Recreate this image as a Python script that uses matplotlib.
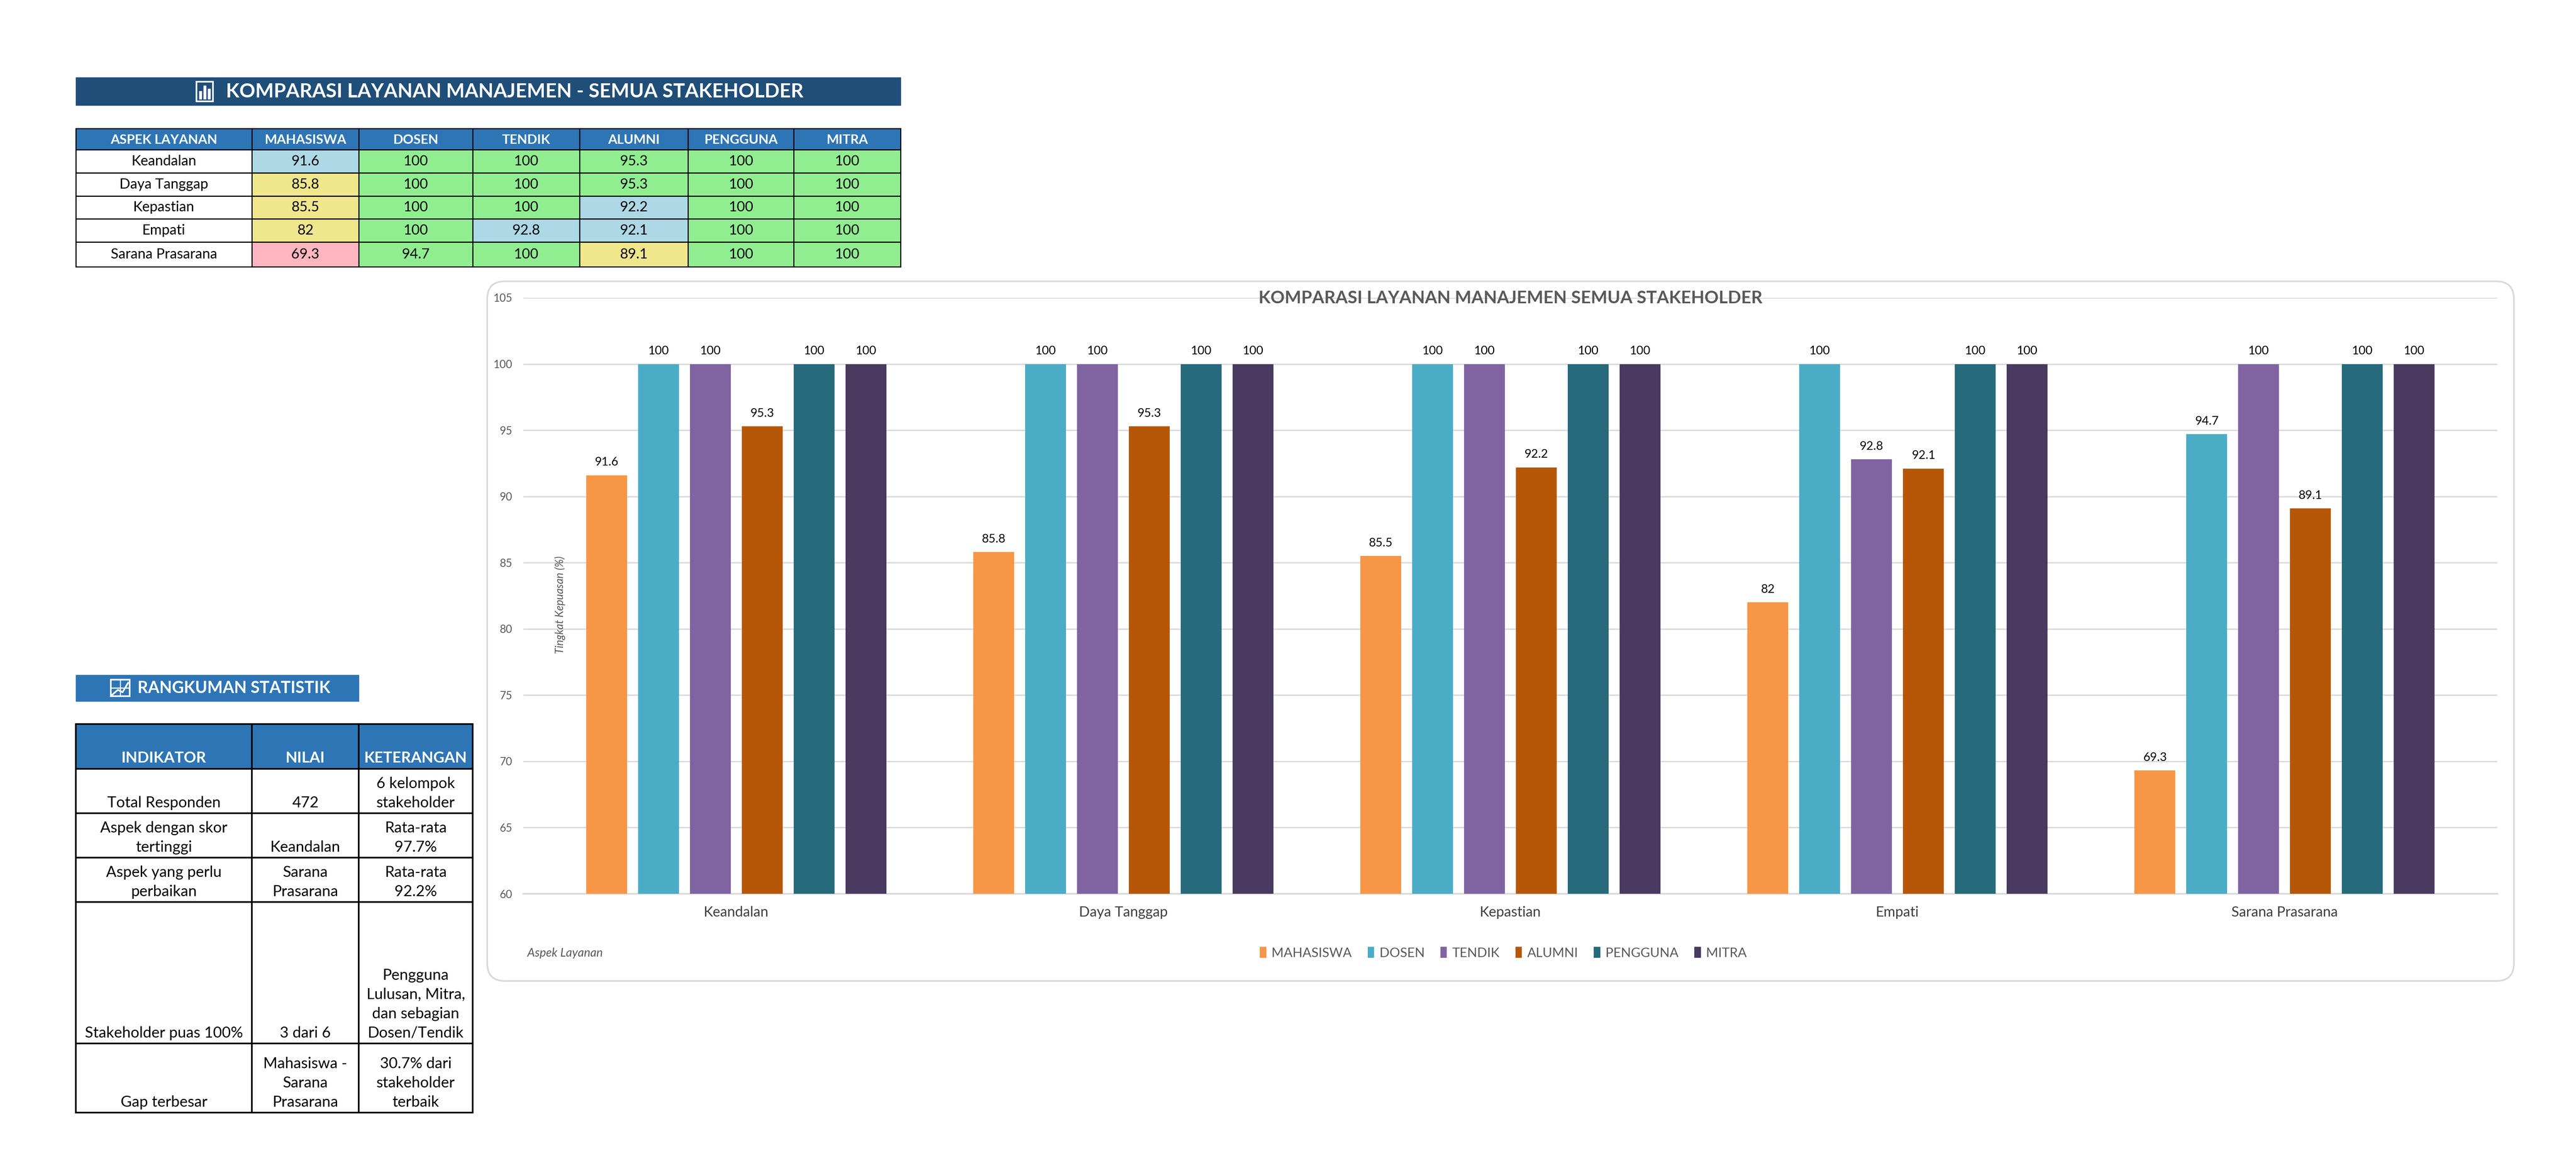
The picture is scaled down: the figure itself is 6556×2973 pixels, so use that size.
import numpy as np
import matplotlib.pyplot as plt
from matplotlib.patches import Rectangle, FancyBboxPatch

# === Data ===
aspects = ['Keandalan', 'Daya Tanggap', 'Kepastian', 'Empati', 'Sarana Prasarana']
stakeholders = ['MAHASISWA', 'DOSEN', 'TENDIK', 'ALUMNI', 'PENGGUNA', 'MITRA']
mahasiswa = [91.6, 85.8, 85.5, 82, 69.3]
dosen = [100, 100, 100, 100, 94.7]
tendik = [100, 100, 100, 92.8, 100]
alumni = [95.3, 95.3, 92.2, 92.1, 89.1]
pengguna = [100, 100, 100, 100, 100]
mitra = [100, 100, 100, 100, 100]
series = [mahasiswa, dosen, tendik, alumni, pengguna, mitra]

stat_header = ['INDIKATOR', 'NILAI', 'KETERANGAN']
stat_rows = [
    ['Total Responden', '472', '6 kelompok\nstakeholder'],
    ['Aspek dengan skor\ntertinggi', 'Keandalan', 'Rata-rata\n97.7%'],
    ['Aspek yang perlu\nperbaikan', 'Sarana\nPrasarana', 'Rata-rata\n92.2%'],
    ['Stakeholder puas 100%', '3 dari 6', 'Pengguna\nLulusan, Mitra,\ndan sebagian\nDosen/Tendik'],
    ['Gap terbesar', 'Mahasiswa -\nSarana\nPrasarana', '30.7% dari\nstakeholder\nterbaik'],
]

# === Styles ===
bar_colors = ['#F79646', '#4BACC6', '#8064A2', '#B65708', '#276A7C', '#4B3A60']
HEAD_BLUE = '#2E75B6'
DARK_BLUE = '#1F4E79'
FONT = 'Lato'


def cell_color(v):
    if v >= 93:
        return '#90EE90'
    if v >= 90:
        return '#ADD8E6'
    if v >= 75:
        return '#F0E68C'
    return '#FFB6C1'


W, H = 6556, 2973
fig = plt.figure(figsize=(W / 100, H / 100), dpi=100)
bg = fig.add_axes([0, 0, 1, 1])
bg.set_xlim(0, W)
bg.set_ylim(H, 0)
bg.axis('off')

# === Title bar ===
bg.add_patch(Rectangle((193, 197), 2099, 71, color=DARK_BLUE))
bg.add_patch(Rectangle((500, 208), 42, 50, fill=False, ec='white', lw=3))
for i, hh in enumerate([20, 34, 26]):
    bg.add_patch(Rectangle((507 + i * 11, 252 - hh), 6, hh, color='white'))
bg.text(1310, 234, 'KOMPARASI LAYANAN MANAJEMEN - SEMUA STAKEHOLDER', color='white',
        fontsize=36, fontweight='bold', ha='center', va='center', family=FONT)

# === Main table ===
col_x = [193, 641, 913, 1203, 1475, 1751, 2020, 2292]
row_y = [327, 381, 440, 499, 557, 616, 679]
header = ['ASPEK LAYANAN'] + stakeholders
for c in range(7):
    x0, x1 = col_x[c], col_x[c + 1]
    bg.add_patch(Rectangle((x0, row_y[0]), x1 - x0, row_y[1] - row_y[0], fc=HEAD_BLUE, ec='black', lw=2))
    bg.text((x0 + x1) / 2, (row_y[0] + row_y[1]) / 2 + 2, header[c], color='white', fontsize=24,
            fontweight='bold', ha='center', va='center', family=FONT)
for r in range(5):
    y0, y1 = row_y[r + 1], row_y[r + 2]
    bg.add_patch(Rectangle((col_x[0], y0), col_x[1] - col_x[0], y1 - y0, fc='white', ec='black', lw=2))
    bg.text((col_x[0] + col_x[1]) / 2, (y0 + y1) / 2, aspects[r], fontsize=26,
            ha='center', va='center', family=FONT)
    for c in range(6):
        v = series[c][r]
        x0, x1 = col_x[c + 1], col_x[c + 2]
        bg.add_patch(Rectangle((x0, y0), x1 - x0, y1 - y0, fc=cell_color(v), ec='black', lw=2))
        bg.text((x0 + x1) / 2, (y0 + y1) / 2, f'{v:g}', fontsize=26, ha='center', va='center', family=FONT)

# === Stats title ===
bg.add_patch(Rectangle((193, 1718), 720, 67, color=HEAD_BLUE))
bg.add_patch(Rectangle((282, 1730), 48, 42, fill=False, ec='white', lw=3))
bg.plot([282, 330], [1751, 1751], color='white', lw=2)
bg.plot([306, 306], [1730, 1772], color='white', lw=2)
bg.plot([286, 300, 312, 326], [1768, 1756, 1762, 1738], color='white', lw=3)
bg.text(350, 1752, 'RANGKUMAN STATISTIK', color='white', fontsize=30, fontweight='bold',
        ha='left', va='center', family=FONT)

# === Stats table ===
s_col = [193, 641, 913, 1203]
s_row = [1843, 1957, 2070, 2183, 2296, 2656, 2832]
for c in range(3):
    x0, x1 = s_col[c], s_col[c + 1]
    bg.add_patch(Rectangle((x0, s_row[0]), x1 - x0, s_row[1] - s_row[0], fc=HEAD_BLUE, ec='black', lw=3))
    bg.text((x0 + x1) / 2, s_row[1] - 10, stat_header[c], color='white', fontsize=28,
            fontweight='bold', ha='center', va='bottom', family=FONT)
for r, row in enumerate(stat_rows):
    y0, y1 = s_row[r + 1], s_row[r + 2]
    for c in range(3):
        x0, x1 = s_col[c], s_col[c + 1]
        bg.add_patch(Rectangle((x0, y0), x1 - x0, y1 - y0, fc='white', ec='black', lw=3))
        bg.text((x0 + x1) / 2, y1 - 8, row[c], fontsize=28, ha='center', va='bottom',
                linespacing=1.45, family=FONT)

# === Chart frame ===
bg.add_patch(FancyBboxPatch((1240, 716), 5158, 1781, boxstyle='round,pad=0,rounding_size=45',
                            fc='white', ec='#D9D9D9', lw=3))

ax = fig.add_axes([1332 / W, 1 - 2275 / H, (6356 - 1332) / W, (2275 - 758) / H])
ax.set_facecolor('none')
x = np.arange(len(aspects))
bw = 0.105
pitch = 0.134
for i, (vals, col) in enumerate(zip(series, bar_colors)):
    pos = x + (i - 2.5) * pitch
    bars = ax.bar(pos, vals, width=bw, color=col, zorder=3, label=stakeholders[i])
    ax.bar_label(bars, labels=[f'{v:g}' for v in vals], padding=14, fontsize=22, family=FONT)

ax.set_ylim(60, 105)
ax.set_xlim(-0.55, 4.55)
ax.set_yticks(range(60, 106, 5))
ax.yaxis.grid(True, color='#D9D9D9', lw=2.5, zorder=0)
ax.tick_params(axis='y', length=0, labelsize=20, labelcolor='#595959', pad=20)
ax.tick_params(axis='x', length=0, labelsize=26, labelcolor='#404040', pad=22)
ax.set_xticks(x)
ax.set_xticklabels(aspects, family=FONT)
for lab in ax.get_yticklabels():
    lab.set_family(FONT)
for s in ['top', 'right', 'left']:
    ax.spines[s].set_visible(False)
ax.spines['bottom'].set_color('#D9D9D9')
ax.spines['bottom'].set_linewidth(3)

ax.set_title('KOMPARASI LAYANAN MANAJEMEN SEMUA STAKEHOLDER', fontsize=32, fontweight='bold',
             color='#595959', family=FONT, pad=-10, y=1.0)
fig.text(1425 / W, 1 - 1540 / H, 'Tingkat Kepuasan (%)', rotation=90, fontsize=20, style='italic',
         color='#595959', ha='center', va='center', family=FONT)
fig.text(1342 / W, 1 - 2426 / H, 'Aspek Layanan', fontsize=22, style='italic',
         color='#595959', ha='left', va='center', family=FONT)
ax.legend(loc='center', bbox_to_anchor=(3826 / W, 1 - 2426 / H), bbox_transform=fig.transFigure,
          ncol=6, frameon=False, fontsize=24, handlelength=0.5, handleheight=0.9,
          columnspacing=1.2, handletextpad=0.4, labelcolor='#595959',
          prop={'family': FONT, 'size': 24})

fig.savefig('out.png', dpi=100)
